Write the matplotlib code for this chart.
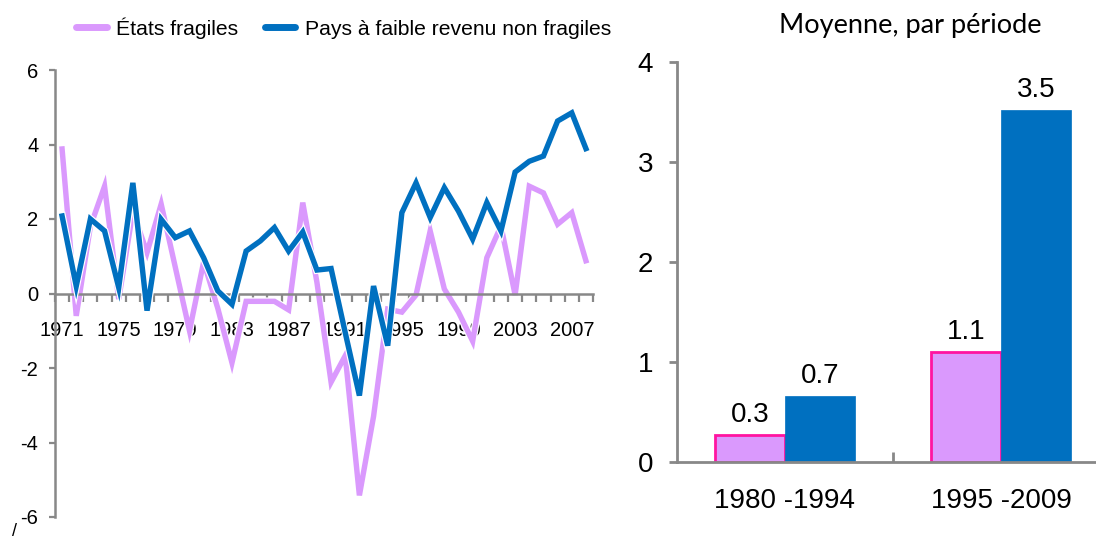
import matplotlib

matplotlib.use("Agg")
import matplotlib.pyplot as plt
import matplotlib.patheffects as pe
from matplotlib.lines import Line2D

plt.rcParams["font.family"] = ["Liberation Sans", "DejaVu Sans"]

# Colours
C_PINK = "#DA99FD"
C_PINK_EDGE = "#FF14A0"
C_BLUE = "#0070C0"
C_AXIS = "#888888"

# ---- data: annual series ----
years = list(range(1971, 2009))
fragiles = [3.88, -0.6, 1.8, 2.88, -0.15, 2.2, 1.1, 2.4, 0.7, -1.0,
            0.85, -0.4, -1.86, -0.21, -0.21, -0.21, -0.44, 2.44, 0.3, -2.38,
            -1.67, -5.42, -3.3, -0.42, -0.5, -0.04, 1.68, 0.12, -0.5, -1.28,
            0.96, 1.81, -0.04, 2.88, 2.7, 1.86, 2.17, 0.88]
non_fragiles = [2.08, 0.2, 2.0, 1.68, 0.16, 2.97, -0.46, 1.99, 1.5, 1.68,
                0.96, 0.07, -0.29, 1.14, 1.41, 1.77, 1.14, 1.65, 0.63, 0.67,
                -1.05, -2.74, 0.2, -1.4, 2.17, 2.97, 2.04, 2.84, 2.21, 1.46,
                2.44, 1.68, 3.26, 3.55, 3.69, 4.63, 4.85, 3.89]
year_labels = [1971, 1975, 1979, 1983, 1987, 1991, 1995, 1999, 2003, 2007]

# ---- data: period averages ----
periods = ["1980 -1994", "1995 -2009"]
avg_fragiles = [0.27, 1.1]
avg_non_fragiles = [0.66, 3.52]
avg_labels_fragiles = ["0.3", "1.1"]
avg_labels_non_fragiles = ["0.7", "3.5"]

W, H = 1096, 541
fig = plt.figure(figsize=(W / 100, H / 100), dpi=100)

# ---------------- left: line chart ----------------
ax = fig.add_axes([55 / W, 1 - 517 / H, 538 / W, 447 / H])
outline = [pe.Stroke(linewidth=5.6, foreground="white"), pe.Normal()]
ax.plot(years, fragiles, color=C_PINK, lw=3.9, zorder=2,
        solid_joinstyle="miter", path_effects=outline)
ax.plot(years, non_fragiles, color=C_BLUE, lw=3.9, zorder=3,
        solid_joinstyle="miter", path_effects=outline)

ax.set_xlim(years[0] - 0.5, years[-1] + 0.5)
ax.set_ylim(-6, 6)
ax.set_yticks([-6, -4, -2, 0, 2, 4, 6])
ax.set_yticklabels(["-6", "-4", "-2", "0", "2", "4", "6"])
ax.set_xticks(year_labels)
ax.set_xticklabels([str(y) for y in year_labels])
ax.set_xticks([y - 0.5 for y in years] + [years[-1] + 0.5], minor=True)
ax.tick_params(axis="x", which="major", length=0, pad=20, labelsize=14.5)
ax.tick_params(axis="x", which="minor", length=6, width=1.6, color=C_AXIS,
               direction="out")
ax.tick_params(axis="y", length=4, width=1.6, color=C_AXIS, pad=8,
               labelsize=14.5)
for s in ("top", "right"):
    ax.spines[s].set_visible(False)
ax.spines["bottom"].set_position(("data", 0))
for s in ("left", "bottom"):
    ax.spines[s].set_color(C_AXIS)
    ax.spines[s].set_linewidth(1.8)

handles = [Line2D([], [], color=C_PINK, lw=5, solid_capstyle="round"),
           Line2D([], [], color=C_BLUE, lw=5, solid_capstyle="round")]
fig.legend(handles, ["États fragiles", "Pays à faible revenu non fragiles"],
           loc="center left", bbox_to_anchor=(76 / W, 1 - 28 / H), ncol=2,
           frameon=False, fontsize=15.2, handlelength=1.45, handletextpad=0.45,
           columnspacing=1.25, borderaxespad=0, borderpad=0)

fig.text(14 / W, 1 - 532 / H, "/", fontsize=13, ha="center", va="center")

# ---------------- right: bar chart ----------------
bx = fig.add_axes([676.7 / W, 1 - 461.7 / H, (W - 676.7) / W, 400 / H])
pos = list(range(len(periods)))
bw = 0.324
b1 = bx.bar([p - bw / 2 for p in pos], avg_fragiles, width=bw,
            color=C_PINK, edgecolor=C_PINK_EDGE, linewidth=2, zorder=2)
b2 = bx.bar([p + bw / 2 for p in pos], avg_non_fragiles, width=bw,
            color=C_BLUE, edgecolor=C_BLUE, linewidth=0.5, zorder=2)
for bars, labels in ((b1, avg_labels_fragiles), (b2, avg_labels_non_fragiles)):
    for rect, lab in zip(bars, labels):
        bx.annotate(lab, (rect.get_x() + rect.get_width() / 2, rect.get_height()),
                    xytext=(0, 9), textcoords="offset points", ha="center",
                    va="baseline", fontsize=20)

bx.set_xlim(-0.5, -0.5 + (W - 676.7) / 216.3)
bx.set_ylim(0, 4)
bx.set_yticks([0, 1, 2, 3, 4])
bx.set_xticks(pos)
bx.set_xticklabels(periods)
bx.set_xticks([0.5], minor=True)
bx.tick_params(axis="x", which="major", length=0, pad=19, labelsize=20)
bx.tick_params(axis="x", which="minor", length=7, width=2, color=C_AXIS,
               direction="in")
bx.tick_params(axis="y", length=6, width=2, color=C_AXIS, pad=11, labelsize=20)
for s in ("top", "right"):
    bx.spines[s].set_visible(False)
for s in ("left", "bottom"):
    bx.spines[s].set_color(C_AXIS)
    bx.spines[s].set_linewidth(2)

fig.text(910 / W, 1 - 25 / H, "Moyenne, par période", fontsize=19.5,
         family=["Lato", "DejaVu Sans"], ha="center", va="center")

fig.savefig("out.png", dpi=100)
